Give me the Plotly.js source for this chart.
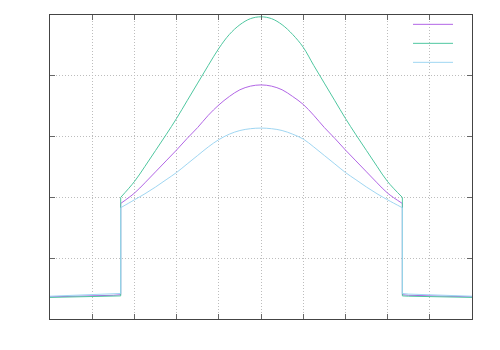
<!DOCTYPE html>
<html>
<head>
<meta charset="utf-8">
<script src="https://cdn.plot.ly/plotly-3.0.1.min.js"></script>
<style>html,body{margin:0;padding:0;background:#fff;}#chart{width:500px;height:350px;}</style>
</head>
<body>
<div id="chart"></div>
<script>
// x positions (shared by all three series); the duplicated 1.675 / 8.35 values are the vertical steps
var xs = [0, 0.5, 1, 1.5, 1.675, 1.675, 2, 2.25, 2.5, 2.75, 3, 3.25, 3.5, 3.75, 4, 4.25, 4.5, 4.75, 5,
          5.25, 5.5, 5.75, 6, 6.25, 6.5, 6.75, 7, 7.25, 7.5, 7.75, 8, 8.35, 8.35, 8.5, 9, 9.5, 10];

var purpleY = [0.365, 0.37, 0.38, 0.39, 0.40, 1.90, 2.07, 2.24, 2.42, 2.60, 2.78, 2.97, 3.15, 3.35, 3.52, 3.66, 3.77, 3.83, 3.85,
               3.83, 3.77, 3.66, 3.53, 3.35, 3.15, 2.97, 2.78, 2.60, 2.42, 2.24, 2.07, 1.90, 0.40, 0.39, 0.38, 0.37, 0.365];
var greenY  = [0.355, 0.36, 0.365, 0.375, 0.38, 2.00, 2.26, 2.51, 2.77, 3.03, 3.30, 3.59, 3.88, 4.17, 4.45, 4.68, 4.84, 4.94, 4.97,
               4.94, 4.84, 4.68, 4.47, 4.17, 3.88, 3.59, 3.30, 3.03, 2.77, 2.51, 2.26, 2.00, 0.38, 0.375, 0.365, 0.36, 0.355];
var blueY   = [0.375, 0.385, 0.395, 0.41, 0.42, 1.83, 1.96, 2.06, 2.17, 2.29, 2.41, 2.55, 2.69, 2.83, 2.95, 3.04, 3.10, 3.13, 3.14,
               3.13, 3.10, 3.04, 2.96, 2.83, 2.69, 2.55, 2.41, 2.29, 2.17, 2.06, 1.96, 1.83, 0.42, 0.41, 0.395, 0.385, 0.375];

var seriesNames = ['', '', ''];
var seriesColors = ['#b266e6', '#4fc7a0', '#9fd6f2'];

// each series: straight flat part + step on both ends, smooth hump in the middle
var STEP_L = 5, STEP_R = 31;
var traces = [];
[purpleY, greenY, blueY].forEach(function (ys, i) {
  var common = {type: 'scatter', mode: 'lines', legendgroup: 'g' + i, name: seriesNames[i], hoverinfo: 'skip'};
  traces.push(Object.assign({}, common, {
    x: xs.slice(STEP_L, STEP_R + 1), y: ys.slice(STEP_L, STEP_R + 1), showlegend: true,
    line: {color: seriesColors[i], width: 1, shape: 'spline', smoothing: 1}}));
  traces.push(Object.assign({}, common, {
    x: xs.slice(0, STEP_L + 1), y: ys.slice(0, STEP_L + 1), showlegend: false,
    line: {color: seriesColors[i], width: 1}}));
  traces.push(Object.assign({}, common, {
    x: xs.slice(STEP_R), y: ys.slice(STEP_R), showlegend: false,
    line: {color: seriesColors[i], width: 1}}));
});

var axisCommon = {
  showticklabels: false, ticks: 'inside', ticklen: 5, tickcolor: '#666', tickwidth: 1,
  showgrid: true, gridcolor: '#bdbdbd', griddash: '1px,2px', gridwidth: 1,
  showline: true, linecolor: '#444', linewidth: 1, mirror: 'ticks', zeroline: false, fixedrange: true,
  automargin: false
};

var layout = {
  width: 500, height: 350,
  margin: {l: 50, r: 28, t: 15, b: 31, autoexpand: false},
  paper_bgcolor: '#fff', plot_bgcolor: '#fff',
  xaxis: Object.assign({range: [0, 10], dtick: 1, tick0: 0}, axisCommon),
  yaxis: Object.assign({range: [0, 5], dtick: 1, tick0: 0}, axisCommon),
  showlegend: true,
  legend: {x: 0.9787, xanchor: 'right', y: 1.017, yanchor: 'top', bgcolor: 'rgba(0,0,0,0)', traceorder: 'normal',
           borderwidth: 0, font: {size: 10, family: 'Liberation Sans'}, tracegroupgap: 0, itemwidth: 40},
  // white backing behind the key area, hiding gridlines like the original
  shapes: [{type: 'rect', layer: 'between', xref: 'paper', yref: 'paper',
            x0: 0.795, x1: 0.995, y0: 0.83, y1: 0.985, fillcolor: '#fff', line: {width: 0}}]
};

Plotly.newPlot('chart', traces, layout, {staticPlot: true, displayModeBar: false});
</script>
</body>
</html>
